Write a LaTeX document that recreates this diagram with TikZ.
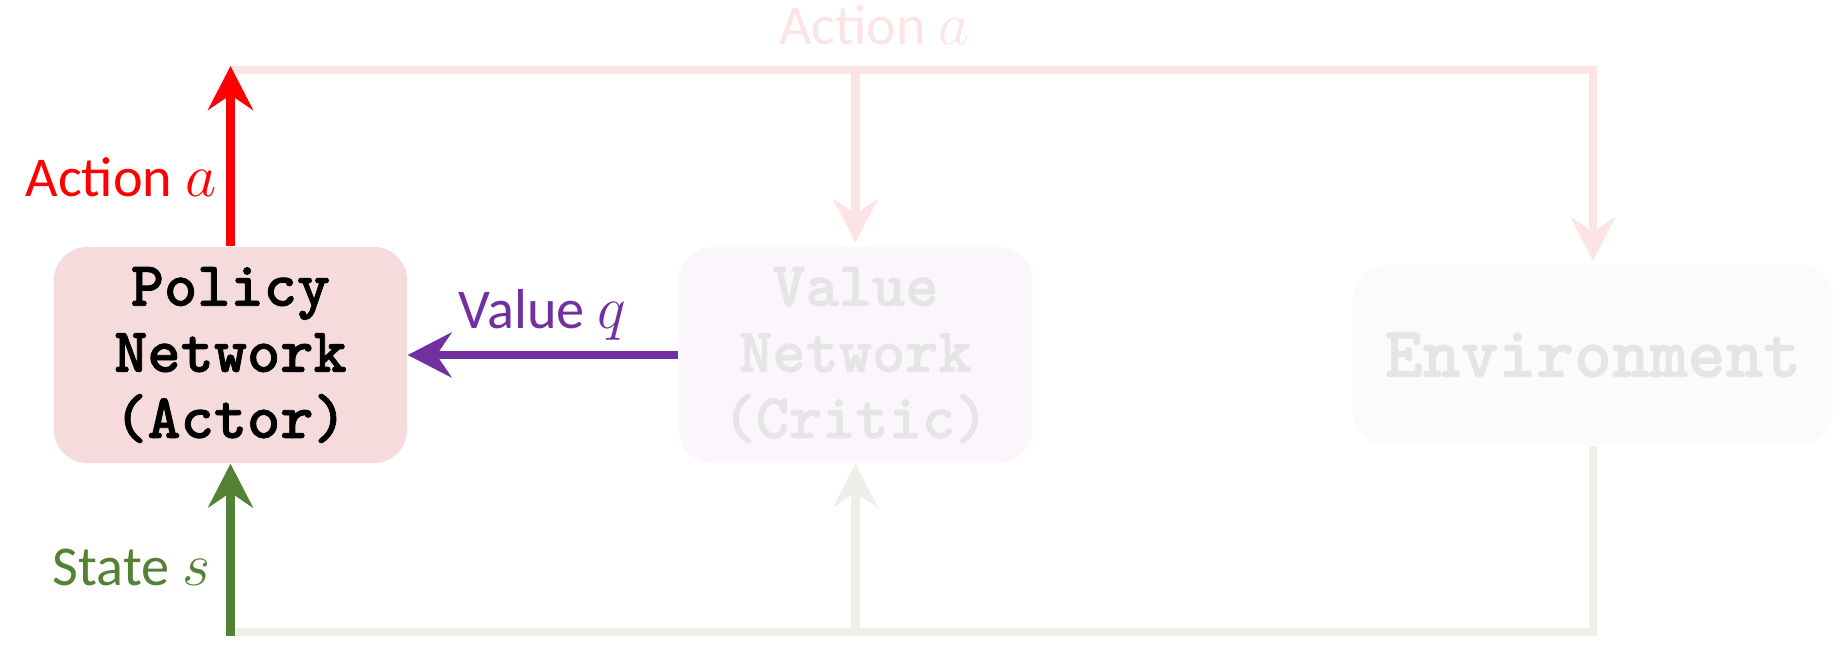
\documentclass[tikz,border=0pt]{standalone}
\usepackage{fontspec}
\usepackage{tikz}
\usetikzlibrary{arrows.meta, positioning, calc}
\newfontfamily\lblfont{Carlito}
\newfontfamily\boxfont{lmmonolt10-bold.otf}[FakeBold=1.2]

\definecolor{actorfill}{RGB}{246,219,221}
\definecolor{criticfill}{RGB}{251,246,252}
\definecolor{envfill}{RGB}{251,251,251}
\definecolor{fadetext}{RGB}{229,229,229}
\definecolor{fadered}{RGB}{253,228,228}
\definecolor{fadegreen}{RGB}{237,240,233}
\definecolor{stategreen}{RGB}{84,130,53}
\definecolor{valpurple}{RGB}{112,48,160}

\begin{document}
\begin{tikzpicture}[
        box/.style={rounded corners=0.33cm, minimum width=3.53cm, minimum height=2.16cm, align=center,
            font=\fontsize{18}{18.8}\selectfont\boxfont},
        flow/.style={line width=2.3pt},
        tip/.style={-{Stealth[length=12.5pt, width=12.8pt, inset=4.3pt]}},
        lbl/.style={inner sep=0pt, font=\fontsize{16}{19}\selectfont\lblfont}
    ]
    \useasboundingbox (0,0) rectangle (18.46,6.60);

    % Actor, critic and environment
    \node[box, fill=actorfill] (actor) at (2.305,3.05) {Policy\\Network\\(Actor)};
    \node[box, fill=criticfill, text=fadetext] (critic) at (8.555,3.05) {Value\\Network\\(Critic)};
    \node[box, fill=envfill, text=fadetext, minimum width=4.8cm, minimum height=1.8cm,
        font=\fontsize{20.5}{22}\selectfont\boxfont] (env) at (15.93,3.05) {Environment};

    \coordinate (top) at (0,5.90);
    \coordinate (bot) at (0,0.28);

    % Faded action and state paths
    \draw[flow, fadered, tip, shorten >=1pt] (actor.north |- top) -- (env.north |- top) -- (env.north);
    \draw[flow, fadered, tip, shorten >=1pt] (critic.north |- top) -- (critic.north);
    \draw[flow, fadegreen] (env.south) -- (env.south |- bot) -- (actor.south |- bot);
    \draw[flow, fadegreen, tip] (critic.south |- bot) -- (critic.south);
    \node[lbl, text=fadered, anchor=base] (toplbl) at (8.745,6.16) {Action $a$};

    % Active signals
    \draw[flow, red, tip] (actor.north) -- ([yshift=0.04cm]actor.north |- top);
    \node[lbl, text=red, anchor=base east] (actlbl) at (2.17,4.64) {Action $a$};

    \draw[flow, stategreen, tip] ([yshift=-0.04cm]actor.south |- bot) -- (actor.south);
    \node[lbl, text=stategreen, anchor=base east] (statelbl) at (2.11,0.75) {State $s$};

    \draw[flow, valpurple, tip] (critic.west) -- (actor.east);
    \node[lbl, text=valpurple, anchor=base] (vallbl) at (5.425,3.32) {Value $q$};
\end{tikzpicture}
\end{document}
